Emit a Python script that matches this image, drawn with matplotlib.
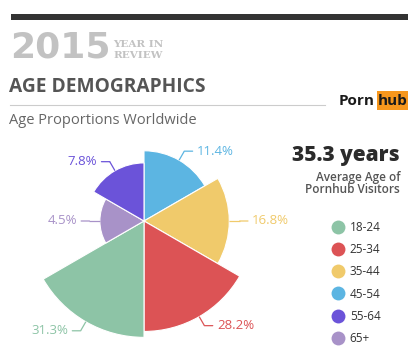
import numpy as np
import matplotlib.pyplot as plt
from matplotlib.lines import Line2D
from matplotlib.patches import Rectangle

plt.rcParams['font.family'] = ['Open Sans', 'DejaVu Sans']

# data
ages = ['18-24', '25-34', '35-44', '45-54', '55-64', '65+']
shares = [31.3, 28.2, 16.8, 11.4, 7.8, 4.5]
colors = ['#8dc4a6', '#dc5355', '#f0ca6b', '#5cb5e2', '#6b53d9', '#a892c8']
# clockwise from 12 o'clock
order = [3, 2, 1, 0, 5, 4]
avg_age = 35.3

W, H = 418, 362
fig = plt.figure(figsize=(W / 100, H / 100), dpi=100)
fig.patch.set_facecolor('white')


def fx(px):
    return px / W


def fy(py):
    return 1 - py / H


# header
fig.add_artist(Rectangle((fx(11), fy(20)), fx(408) - fx(11), fy(14) - fy(20),
                         transform=fig.transFigure, color='#333333', lw=0))
fig.text(fx(10), fy(48), '2015', fontsize=26, fontweight='heavy', color='#c2c2c2',
         va='center', ha='left', family=['DejaVu Sans'])
fig.text(fx(113), fy(44.5), 'YEAR IN', fontsize=7.5, fontweight='bold', color='#c2c2c2',
         va='center', ha='left', family=['DejaVu Serif'])
fig.text(fx(113), fy(55), 'REVIEW', fontsize=7.5, fontweight='bold', color='#c2c2c2',
         va='center', ha='left', family=['DejaVu Serif'])
fig.text(fx(9), fy(87), 'AGE DEMOGRAPHICS', fontsize=13.8, fontweight='bold', color='#555555',
         va='center', ha='left')
fig.add_artist(Line2D([fx(10), fx(325)], [fy(105), fy(105)], transform=fig.transFigure,
                      color='#cccccc', lw=0.8))
fig.text(fx(9), fy(121), 'Age Proportions Worldwide', fontsize=10.5, color='#666666',
         va='center', ha='left')

# logo
fig.text(fx(339), fy(101), 'Porn', fontsize=11, fontweight='bold', color='#1a1a1a',
         va='center', ha='left')
fig.add_artist(Rectangle((fx(377), fy(110)), fx(408) - fx(377), fy(91) - fy(110),
                         transform=fig.transFigure, color='#f7971d', lw=0))
fig.text(fx(392.5), fy(101), 'hub', fontsize=11, fontweight='bold', color='#1a1a1a',
         va='center', ha='center')

# average age block
fig.text(fx(400), fy(155), f'{avg_age} years', fontsize=15, fontweight='heavy', color='#2b2b2b',
         va='center', ha='right')
fig.text(fx(400), fy(177), 'Average Age of', fontsize=8.5, fontweight='semibold', color='#555555',
         va='center', ha='right')
fig.text(fx(400), fy(189.5), 'Pornhub Visitors', fontsize=8.5, fontweight='semibold', color='#555555',
         va='center', ha='right')

# polar area chart, radius ~ sqrt(share) so area follows the share
cx, cy, R = 144, 221, 125
ax = fig.add_axes([fx(cx - R), fy(cy + R), 2 * R / W, 2 * R / H], projection='polar')
ax.set_theta_zero_location('N')
ax.set_theta_direction(-1)
step = 2 * np.pi / len(order)
thetas = np.arange(len(order)) * step + step / 2
radii = [np.sqrt(shares[i]) for i in order]
ax.bar(thetas, radii, width=step, color=[colors[i] for i in order],
       edgecolor='white', linewidth=0.8)
ax.set_ylim(0, R / 20.8)
ax.set_axis_off()

for th, i in zip(thetas, order):
    r = np.sqrt(shares[i])
    c = colors[i]
    r2 = r + 0.5
    ax.plot([th, th], [r, r2], color=c, lw=0.9, solid_capstyle='butt', clip_on=False)
    right = np.sin(th) > 0
    ax.annotate(f'{shares[i]}%', xy=(th, r2), xytext=(9 if right else -9, 0),
                textcoords='offset points', ha='left' if right else 'right', va='center',
                fontsize=9.5, color=c, annotation_clip=False,
                arrowprops=dict(arrowstyle='-', color=c, lw=0.9, shrinkA=1, shrinkB=0))

# legend
handles = [Line2D([], [], marker='o', ls='none', markersize=10, markerfacecolor=c,
                  markeredgecolor='none') for c in colors]
fig.legend(handles, ages, loc='upper left', bbox_to_anchor=(fx(325), fy(215)),
           frameon=False, fontsize=8.5, labelspacing=0.78, handletextpad=0.4,
           labelcolor='#333333', borderpad=0, handlelength=1.2)

fig.savefig('out.png', dpi=100)
